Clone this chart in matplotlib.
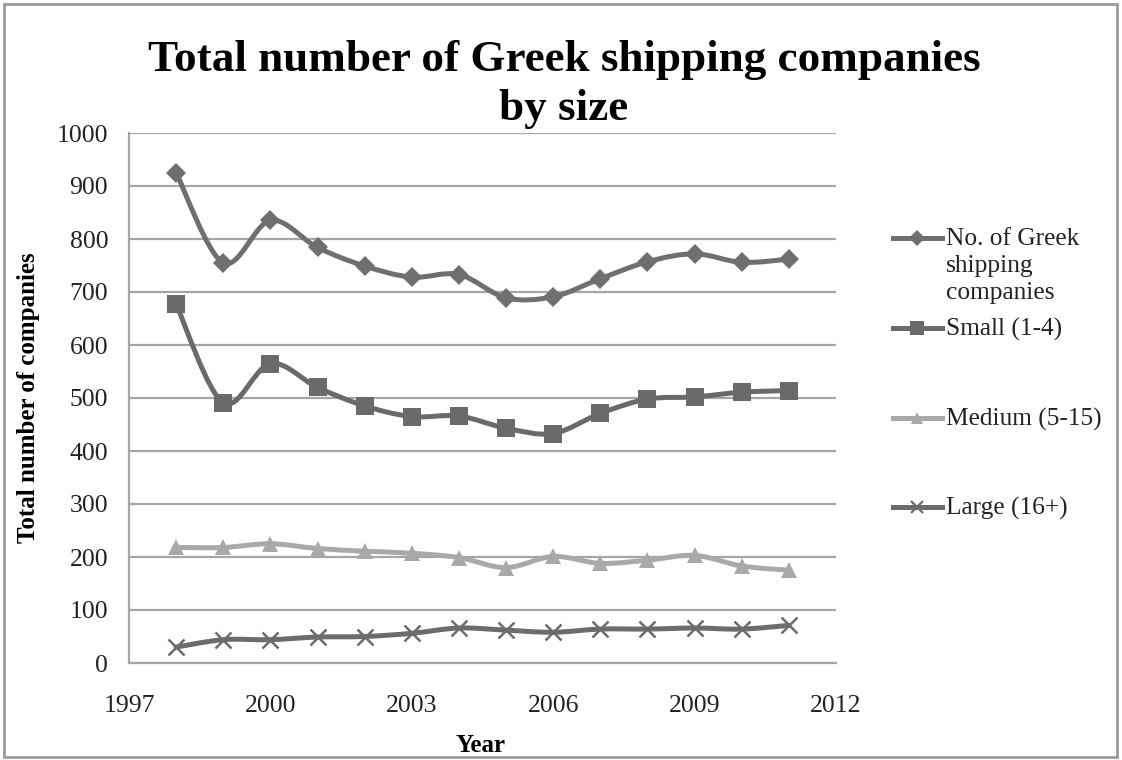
import numpy as np
import matplotlib
matplotlib.use("Agg")
import matplotlib.pyplot as plt
from matplotlib.path import Path
from matplotlib.patches import PathPatch, Rectangle
from matplotlib.lines import Line2D

plt.rcParams['font.family'] = ['Liberation Serif', 'DejaVu Serif']

years = np.arange(1998, 2012)
total = [925, 755, 835, 784, 749, 728, 733, 689, 691, 725, 757, 772, 756, 762]
small = [677, 491, 565, 520, 485, 465, 466, 443, 433, 471, 498, 502, 511, 514]
medium = [218, 218, 225, 216, 211, 207, 199, 180, 201, 188, 194, 203, 183, 175]
large = [30, 44, 44, 49, 50, 56, 66, 62, 58, 64, 64, 66, 64, 71]

labels = ["No. of Greek\nshipping\ncompanies", "Small (1-4)", "Medium (5-15)", "Large (16+)"]
colors = ["#6f6f6f", "#6a6a6a", "#a9a9a9", "#6c6c6c"]
markers = ["D", "s", "^", "x"]
msizes = [10, 13, 11, 11]

xticks = [1997, 2000, 2003, 2006, 2009, 2012]
yticks = np.arange(0, 1001, 100)


def smooth_path(x, y):
    # catmull-rom style bezier, close to excel's smoothed line
    p = np.column_stack([x, y]).astype(float)
    pp = np.vstack([p[0], p, p[-1]])
    verts = [p[0]]
    codes = [Path.MOVETO]
    for i in range(len(p) - 1):
        p0, p1, p2, p3 = pp[i], pp[i + 1], pp[i + 2], pp[i + 3]
        c1 = p1 + (p2 - p0) / 6.0
        c2 = p2 - (p3 - p1) / 6.0
        verts += [c1, c2, p2]
        codes += [Path.CURVE4] * 3
    return Path(verts, codes)


W, H = 1122, 760
fig = plt.figure(figsize=(W / 100, H / 100), dpi=100)
ax = fig.add_axes([129 / W, 1 - 663 / H, (836 - 129) / W, (663 - 133) / H])

series = [total, small, medium, large]
for vals, c, m, ms in zip(series, colors, markers, msizes):
    ax.add_patch(PathPatch(smooth_path(years, vals), facecolor="none",
                           edgecolor=c, lw=3.6, capstyle="round", zorder=3))
    if m == "x":
        ax.plot(years, vals, linestyle="none", marker=m, ms=ms, mew=1.8,
                color=c, zorder=4)
    else:
        ax.plot(years, vals, linestyle="none", marker=m, ms=ms, mew=0,
                color=c, zorder=4)

ax.set_xlim(1997, 2012)
ax.set_ylim(0, 1000)
ax.set_xticks(xticks)
ax.set_yticks(yticks)
ax.tick_params(axis="both", length=0, labelsize=18.5, colors="#222222")
ax.tick_params(axis="y", pad=15)
ax.tick_params(axis="x", pad=23)
ax.grid(axis="y", color="#a6a6a6", lw=1.6)
ax.set_axisbelow(True)
for s in ["top", "right"]:
    ax.spines[s].set_visible(False)
for s in ["left", "bottom"]:
    ax.spines[s].set_color("#a6a6a6")
    ax.spines[s].set_linewidth(1.6)

ax.set_ylabel("Total number of companies", fontsize=18, fontweight="bold")
ax.yaxis.set_label_coords(-(129 - 40) / (836 - 129), 0.5)
fig.text(481 / W, 1 - 745 / H, "Year", ha="center", va="center",
         fontsize=18, fontweight="bold")

fig.text(564 / W, 1 - 60 / H, "Total number of Greek shipping companies",
         ha="center", va="center", fontsize=32.5, fontweight="bold")
fig.text(564 / W, 1 - 109 / H, "by size", ha="center", va="center",
         fontsize=32.5, fontweight="bold")

# legend, drawn by hand like the excel one
leg_y = [238, 328, 418, 507]
for lab, c, m, ms, ly in zip(labels, colors, markers, msizes, leg_y):
    yf = 1 - ly / H
    fig.add_artist(Line2D([893 / W, 942 / W], [yf, yf], color=c, lw=3.6,
                          transform=fig.transFigure))
    fig.add_artist(Line2D([917 / W], [yf], marker=m, ms=ms * 0.8,
                          mew=1.6 if m == "x" else 0, color=c, linestyle="none",
                          transform=fig.transFigure))
    fig.text(946 / W, yf + 10 / H, lab, ha="left", va="top", fontsize=18.3,
             color="#222222", linespacing=1.28)

fig.add_artist(Rectangle((4 / W, 3 / H), (W - 9) / W, (H - 7) / H, fill=False,
                         edgecolor="#9a9a9a", lw=2, transform=fig.transFigure))

fig.savefig("out.png", dpi=100)
